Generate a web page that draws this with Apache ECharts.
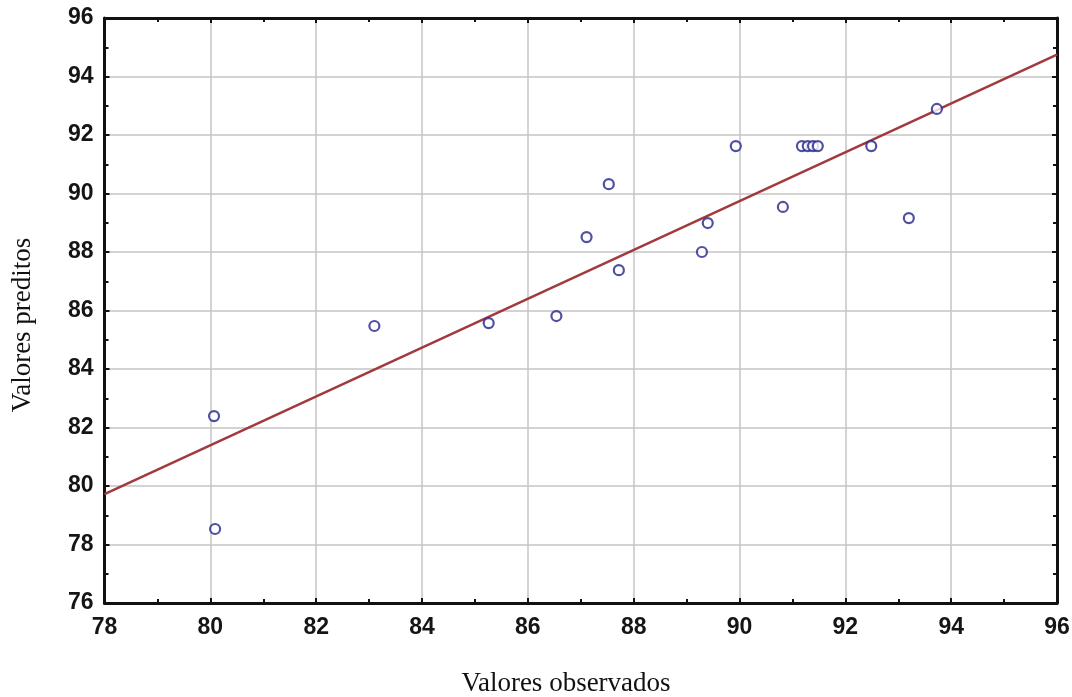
<!DOCTYPE html>
<html>
<head>
<meta charset="utf-8">
<script src="https://cdn.jsdelivr.net/npm/echarts@6/dist/echarts.min.js"></script>
<style>
  html, body { margin: 0; padding: 0; background: #fff; }
  #chart { width: 1072px; height: 697px; }
</style>
</head>
<body>
<div id="chart"></div>
<script>
// Observed vs. predicted values
const observados = [80.07, 80.09, 83.10, 85.26, 86.54, 87.11, 87.53, 87.72, 89.29, 89.40,
                    89.93, 90.82, 91.18, 91.29, 91.39, 91.48, 92.49, 93.20, 93.73];
const preditos   = [82.39, 78.53, 85.47, 85.57, 85.81, 88.51, 90.32, 87.38, 88.00, 88.99,
                    91.62, 89.54, 91.62, 91.62, 91.62, 91.62, 91.62, 89.16, 92.89];
// Fitted line end points (x, y)
const retaX = [78, 96];
const retaY = [79.72, 94.75];
const xTitle = 'Valores observados';
const yTitle = 'Valores preditos';

const pontos = observados.map((v, i) => [v, preditos[i]]);
const reta = retaX.map((v, i) => [v, retaY[i]]);

const labelStyle = { color: '#151515', fontFamily: 'Liberation Sans, Arial', fontWeight: 'bold', fontSize: 23 };
const titleFont = { fontFamily: 'Liberation Serif, Times New Roman', fontSize: 27, fill: '#111' };
const gridLine = { show: true, lineStyle: { color: '#c4c4c4', width: 1.5 } };
const axisLine = { show: true, onZero: false, lineStyle: { color: '#111', width: 3 } };
const tick = { show: true, inside: true, length: 5, lineStyle: { color: '#111', width: 2 } };
const minor = { show: true, splitNumber: 2, length: 4, lineStyle: { color: '#111', width: 2 } };

const chart = echarts.init(document.getElementById('chart'));
chart.setOption({
  animation: false,
  backgroundColor: '#fff',
  grid: { left: 104.5, right: 15, top: 18, bottom: 94, containLabel: false, outerBoundsMode: 'none' },
  xAxis: [
    {
      type: 'value', min: 78, max: 96, interval: 2,
      axisLine, axisTick: tick, minorTick: minor,
      axisLabel: Object.assign({ margin: 13 }, labelStyle),
      splitLine: gridLine
    },
    {
      type: 'value', position: 'top', min: 78, max: 96, interval: 2,
      axisLine, axisTick: tick, minorTick: minor,
      axisLabel: { show: false }, splitLine: { show: false }
    }
  ],
  yAxis: [
    {
      type: 'value', min: 76, max: 96, interval: 2,
      axisLine, axisTick: tick, minorTick: minor,
      axisLabel: Object.assign({ margin: 11 }, labelStyle),
      splitLine: gridLine
    },
    {
      type: 'value', position: 'right', min: 76, max: 96, interval: 2,
      axisLine, axisTick: tick, minorTick: minor,
      axisLabel: { show: false }, splitLine: { show: false }
    }
  ],
  graphic: [
    {
      type: 'text', x: 566, y: 684,
      style: Object.assign({ text: xTitle, align: 'center', verticalAlign: 'middle' }, titleFont)
    },
    {
      type: 'text', x: 23, y: 325, rotation: Math.PI / 2,
      style: Object.assign({ text: yTitle, align: 'center', verticalAlign: 'middle' }, titleFont)
    }
  ],
  series: [
    {
      type: 'line', data: reta, showSymbol: false, symbol: 'none',
      lineStyle: { color: '#a23a3d', width: 2.5 }, z: 3
    },
    {
      type: 'scatter', data: pontos, symbol: 'circle', symbolSize: 10,
      itemStyle: { color: '#fff', borderColor: '#24248a', borderWidth: 2.2 }, z: 4
    }
  ]
});
</script>
</body>
</html>
